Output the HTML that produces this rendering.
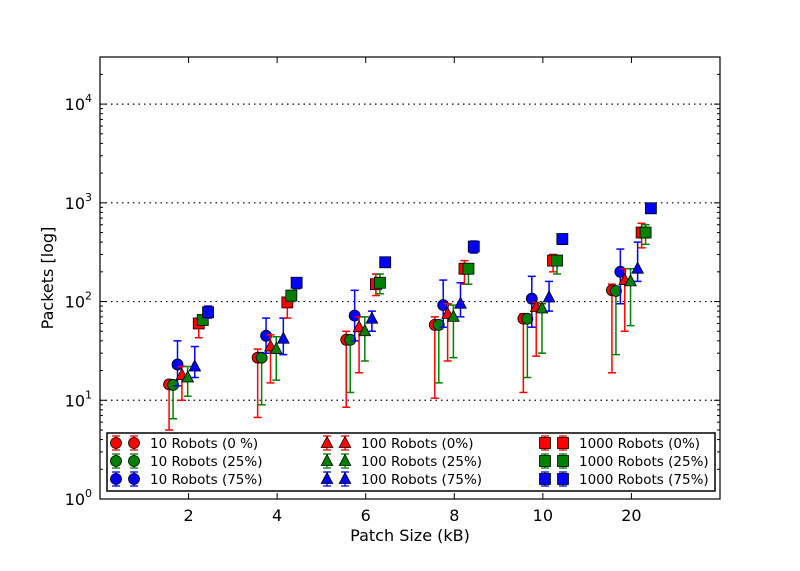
<!DOCTYPE html>
<html><head><meta charset="utf-8"><style>
html,body{margin:0;padding:0;background:#fff;}
svg{display:block;font-family:"DejaVu Sans","Liberation Sans",sans-serif;}
</style></head><body>
<svg id="chart" width="800" height="571" viewBox="0 0 800 571" xmlns="http://www.w3.org/2000/svg"></svg>
<script>
const categories = ["2","4","6","8","10","20"];
const seriesNames = ["10 Robots (0 %)","10 Robots (25%)","10 Robots (75%)","100 Robots (0%)","100 Robots (25%)","100 Robots (75%)","1000 Robots (0%)","1000 Robots (25%)","1000 Robots (75%)"];
const yTickLabels = ["0","1","2","3","4"];
const v_10_0  = [14.5,27,41,58,67,130];
const v_10_25 = [14.3,27,41,58,67,128];
const v_10_75 = [23,45,72,92,107,200];
const v_100_0 = [18,35,55,75,88,165];
const v_100_25= [17,33,50,70,85,160];
const v_100_75= [22,42,67,95,110,215];
const v_1000_0= [60,98,150,215,260,500];
const v_1000_25=[65,115,155,215,260,500];
const v_1000_75=[78,155,250,360,430,880];
const lo_10_0  = [5,6.7,8.5,10.5,12,19];
const hi_10_0  = [15.5,33,50,70,75,150];
const lo_10_25 = [6.5,9,12,15,17,29];
const hi_10_25 = [14.5,27,42,58,67,128];
const lo_10_75 = [14,30,40,55,55,95];
const hi_10_75 = [40,68,130,165,180,340];
const lo_100_0 = [10,15,19,25,28,50];
const hi_100_0 = [22,46,70,95,98,215];
const lo_100_25= [11,16,25,27,30,57];
const hi_100_25= [22,44,70,92,95,215];
const lo_100_75= [17,29,50,70,80,160];
const hi_100_75= [35,68,80,155,160,400];
const lo_1000_0= [43,68,115,150,200,350];
const hi_1000_0= [65,105,190,260,300,620];
const lo_1000_25=[60,100,120,150,190,380];
const hi_1000_25=[70,125,190,235,280,600];
const lo_1000_75=[68,135,230,310,380,800];
const hi_1000_75=[90,165,265,410,480,950];

const values=[v_10_0,v_10_25,v_10_75,v_100_0,v_100_25,v_100_75,v_1000_0,v_1000_25,v_1000_75];
const lows=[lo_10_0,lo_10_25,lo_10_75,lo_100_0,lo_100_25,lo_100_75,lo_1000_0,lo_1000_25,lo_1000_75];
const highs=[hi_10_0,hi_10_25,hi_10_75,hi_100_0,hi_100_25,hi_100_75,hi_1000_0,hi_1000_25,hi_1000_75];
const colors=["#ff0000","#008000","#0000ff"];
const shapes=["circle","circle","circle","tri","tri","tri","sq","sq","sq"];
const offsets=[-0.22,-0.175,-0.125,-0.075,-0.01,0.07,0.115,0.16,0.22];

const L=100,R=720,T=57,B=499;
const xs=i=>L+(i+1)*(R-L)/7;
const yDecade=(B-T)/Math.log10(30000);
const ys=v=>B-Math.log10(v)*yDecade;
const svg=document.getElementById('chart');
const NS="http://www.w3.org/2000/svg";
function mk(tag,attrs,parent){const e=document.createElementNS(NS,tag);for(const k in attrs)e.setAttribute(k,attrs[k]);(parent||svg).appendChild(e);return e;}

yTickLabels.forEach((t,i)=>{
  if(i>0){const g=mk('line',{x1:L,x2:R,y1:ys(Math.pow(10,+t)),y2:ys(Math.pow(10,+t)),stroke:'#000','stroke-dasharray':'1.5,4','stroke-width':1.2});
  
  }
});

function marker(shape,x,y,color,parent){
  let e;
  if(shape==='circle') e=mk('circle',{cx:x,cy:y,r:5.5,fill:color,stroke:'#000','stroke-width':0.8},parent);
  else if(shape==='tri') e=mk('polygon',{points:`${x},${y-6.5} ${x-5.8},${y+4.5} ${x+5.8},${y+4.5}`,fill:color,stroke:'#000','stroke-width':0.8},parent);
  else e=mk('rect',{x:x-5.5,y:y-5.5,width:11,height:11,fill:color,stroke:'#000','stroke-width':0.8},parent);
  return e;
}

values.forEach((vals,s)=>{
  const g=mk('g',{});
  
  
  const c=colors[s%3];
  vals.forEach((v,i)=>{
    const x=xs(i+offsets[s]);
    const y1=ys(lows[s][i]),y2=ys(highs[s][i]);
    mk('line',{x1:x,x2:x,y1:y1,y2:y2,stroke:c,'stroke-width':1.5},g);
    mk('line',{x1:x-4,x2:x+4,y1:y1,y2:y1,stroke:c,'stroke-width':1.5},g);
    mk('line',{x1:x-4,x2:x+4,y1:y2,y2:y2,stroke:c,'stroke-width':1.5},g);
    const m=marker(shapes[s],x,ys(v),c,g);
    
    
  });
});

const fr=mk('rect',{x:L,y:T,width:R-L,height:B-T,fill:'none',stroke:'#000','stroke-width':1.2});



categories.forEach((c,i)=>{
  const x=xs(i);
  mk('line',{x1:x,x2:x,y1:B,y2:B-6,stroke:'#000'});
  mk('line',{x1:x,x2:x,y1:T,y2:T+6,stroke:'#000'});
  const t=mk('text',{x:x,y:B+22,'font-size':16,'text-anchor':'middle'});
  t.textContent=c;
  
  
});
yTickLabels.forEach(tl=>{
  const y=ys(Math.pow(10,+tl));
  mk('line',{x1:L,x2:L+6,y1:y,y2:y,stroke:'#000'});
  mk('line',{x1:R,x2:R-6,y1:y,y2:y,stroke:'#000'});
  for(let k=2;k<10;k++){const yy=ys(k*Math.pow(10,+tl));if(yy>T){mk('line',{x1:L,x2:L+3,y1:yy,y2:yy,stroke:'#000'});mk('line',{x1:R,x2:R-3,y1:yy,y2:yy,stroke:'#000'});}}
  const t=mk('text',{x:L-8,y:y+6,'font-size':16,'text-anchor':'end'});
  t.innerHTML='10<tspan dy="-8" font-size="11">'+tl+'</tspan>';
  
  
});
const xl=mk('text',{x:410,y:541,'font-size':16,'text-anchor':'middle'});xl.textContent='Patch Size (kB)';


const yl=mk('text',{x:0,y:0,'font-size':16,'text-anchor':'middle',transform:'translate(53,278) rotate(-90)'});yl.textContent='Packets [log]';



const lg=mk('g',{});


mk('rect',{x:107,y:433,width:608,height:58,fill:'#fff',stroke:'#000','stroke-width':1.5},lg);
const colX=[116,327,545];
seriesNames.forEach((n,s)=>{
  const col=Math.floor(s/3),row=s%3;
  const y=443+row*18,x0=colX[col],c=colors[s%3];
  const e=mk('g',{},lg);
  
  
  [x0,x0+18].forEach(x=>{
    mk('line',{x1:x,x2:x,y1:y-7,y2:y+7,stroke:c,'stroke-width':1.3},e);
    mk('line',{x1:x-4,x2:x+4,y1:y-7,y2:y-7,stroke:c,'stroke-width':1.3},e);
    mk('line',{x1:x-4,x2:x+4,y1:y+7,y2:y+7,stroke:c,'stroke-width':1.3},e);
    marker(shapes[s],x,y,c,e);
  });
  const t=mk('text',{x:x0+34,y:y+5,'font-size':13.5},e);t.textContent=n;
});
</script>
</body></html>
